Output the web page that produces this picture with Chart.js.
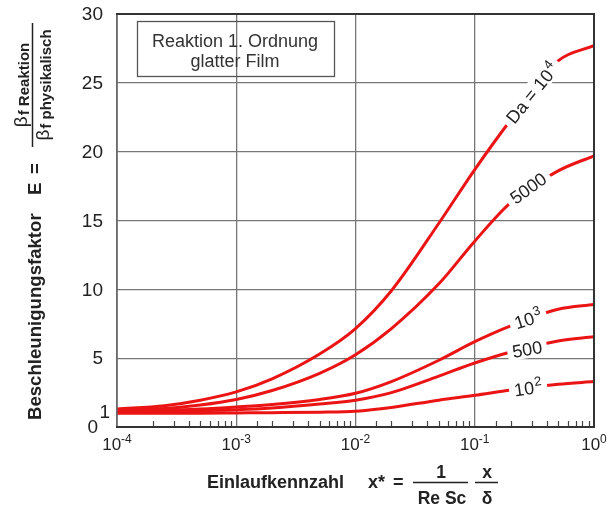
<!DOCTYPE html>
<html>
<head>
<meta charset="utf-8">
<script src="https://cdn.jsdelivr.net/npm/chart.js@4.4.0/dist/chart.umd.min.js"></script>
<style>
    html, body { margin: 0; padding: 0; background: #fff; }
    .chart { position: relative; width: 609px; height: 506px; }
</style>
</head>
<body>
<div class="chart"><canvas id="chart"></canvas></div>
<script>
//data
const x_values = [1e-4, 2.5e-4, 5e-4, 1e-3, 2e-3, 5e-3, 1e-2, 2e-2, 5e-2, 0.1, 0.2, 0.5, 1]

const e_da_10000 = [1.3, 1.55, 1.95, 2.55, 3.5, 5.3, 7.15, 9.9, 14.8, 18.7, 22.3, 26.6, 27.7]
const e_da_5000 = [1.25, 1.35, 1.6, 2.0, 2.65, 3.9, 5.25, 7.15, 10.4, 13.5, 16.3, 18.6, 19.7]
const e_da_1000 = [1.15, 1.2, 1.3, 1.45, 1.63, 2.0, 2.45, 3.3, 4.85, 6.2, 7.35, 8.55, 8.9]
const e_da_500 = [1.1, 1.13, 1.18, 1.25, 1.38, 1.67, 1.95, 2.5, 3.7, 4.65, 5.45, 6.25, 6.55]
const e_da_100 = [1.0, 1.0, 1.0, 1.02, 1.04, 1.08, 1.15, 1.42, 1.95, 2.3, 2.68, 3.1, 3.3]

const y_ticks = [0, 1, 5, 10, 15, 20, 25, 30]
const x_decades = [1e-4, 1e-3, 1e-2, 1e-1, 1]
const x_exponents = ['-4', '-3', '-2', '-1', '0']

const FONT = '"Liberation Sans", Arial, sans-serif'
const RED = 'rgb(235, 20, 20)'

function is_decade(v) {
    const l = Math.log10(v)
    return Math.abs(l - Math.round(l)) < 1e-9
}

function make_dataset(values) {
    return {
        data: x_values.map((x, i) => ({x: x, y: values[i]})),
        borderColor: RED,
        borderWidth: 3,
        pointRadius: 0,
        fill: false,
        cubicInterpolationMode: 'monotone'
    }
}

// curve labels (anchored in data units)
const curve_labels = [
    {text: 'Da = 10', sup: '4', x: 0.302, y: 24.26, angle: -51},
    {text: '5000', sup: '', x: 0.280, y: 17.36, angle: -36},
    {text: '10', sup: '3', x: 0.280, y: 7.84, angle: -18},
    {text: '500', sup: '', x: 0.275, y: 5.66, angle: -10},
    {text: '10', sup: '2', x: 0.280, y: 2.83, angle: -8}
]

function draw_curve_label(ctx, label, xs, ys) {
    const px = xs.getPixelForValue(label.x)
    const py = ys.getPixelForValue(label.y)
    ctx.save()
    ctx.translate(px, py)
    ctx.rotate(label.angle * Math.PI / 180)
    ctx.font = `18px ${FONT}`
    const w_main = ctx.measureText(label.text).width
    ctx.font = `13px ${FONT}`
    const w_sup = label.sup ? ctx.measureText(label.sup).width + 1 : 0
    const w = w_main + w_sup
    ctx.fillStyle = '#fff'
    ctx.fillRect(-w / 2 - 5, -10, w + 10, 19)
    ctx.fillStyle = '#222'
    ctx.textAlign = 'left'
    ctx.textBaseline = 'alphabetic'
    ctx.font = `18px ${FONT}`
    ctx.fillText(label.text, -w / 2, 6.5)
    if (label.sup) {
        ctx.font = `13px ${FONT}`
        ctx.fillText(label.sup, -w / 2 + w_main + 1, -1)
    }
    ctx.restore()
}

const decorations = {
    id: 'decorations',
    afterDatasetsDraw(chart) {
        const ctx = chart.ctx
        const area = chart.chartArea
        const xs = chart.scales.x
        const ys = chart.scales.y

        for (label of curve_labels) {
            draw_curve_label(ctx, label, xs, ys)
        }

        // minor ticks on the bottom
        ctx.save()
        ctx.strokeStyle = '#444'
        ctx.lineWidth = 1.2
        for (tick of xs.ticks) {
            if (is_decade(tick.value)) continue
            const px = Math.round(xs.getPixelForValue(tick.value)) + 0.5
            ctx.beginPath()
            ctx.moveTo(px, area.bottom)
            ctx.lineTo(px, area.bottom - 6)
            ctx.stroke()
        }

        // frame
        ctx.strokeStyle = '#666'
        ctx.lineWidth = 1.5
        ctx.beginPath()
        ctx.moveTo(area.left, area.top)
        ctx.lineTo(area.left, area.bottom)
        ctx.stroke()
        ctx.strokeStyle = '#333'
        ctx.lineWidth = 2
        ctx.beginPath()
        ctx.moveTo(area.left - 1, area.top)
        ctx.lineTo(area.right, area.top)
        ctx.lineTo(area.right, area.bottom)
        ctx.lineTo(area.left - 1, area.bottom)
        ctx.stroke()

        // info box
        ctx.strokeStyle = '#555'
        ctx.lineWidth = 1.3
        ctx.strokeRect(137.5, 21.5, 197, 55)
        ctx.fillStyle = '#333'
        ctx.font = `18px ${FONT}`
        ctx.textAlign = 'center'
        ctx.textBaseline = 'alphabetic'
        ctx.fillText('Reaktion 1. Ordnung', 235, 47)
        ctx.fillText('glatter Film', 235, 67)

        // y tick labels
        ctx.fillStyle = '#222'
        ctx.font = `19px ${FONT}`
        ctx.textAlign = 'right'
        ctx.textBaseline = 'middle'
        for (v of y_ticks) {
            const py = ys.getPixelForValue(v)
            if (v == 1) {
                ctx.fillText('1', area.left - 7, py)
            } else if (v == 0) {
                ctx.fillText('0', area.left - 19, py + 1)
            } else {
                ctx.fillText(String(v), area.left - 14, py + 1)
            }
        }

        // x tick labels: 10 with superscript exponent
        ctx.textAlign = 'left'
        ctx.textBaseline = 'alphabetic'
        x_decades.forEach((v, i) => {
            const px = xs.getPixelForValue(v)
            ctx.font = `17px ${FONT}`
            const w10 = ctx.measureText('10').width
            ctx.font = `12px ${FONT}`
            const wsup = ctx.measureText(x_exponents[i]).width
            const start = px - (w10 + wsup) / 2
            ctx.font = `17px ${FONT}`
            ctx.fillText('10', start, 450)
            ctx.font = `12px ${FONT}`
            ctx.fillText(x_exponents[i], start + w10, 443)
        })

        // x axis title
        ctx.fillStyle = '#222'
        ctx.font = `bold 18px ${FONT}`
        ctx.fillText('Einlaufkennzahl', 207, 488)
        ctx.fillText('x*', 368, 488)
        ctx.fillText('=', 393, 488)
        ctx.textAlign = 'center'
        ctx.font = `bold 17.5px ${FONT}`
        ctx.fillText('1', 441, 478)
        ctx.fillText('Re Sc', 442, 504)
        ctx.fillText('x', 487, 478)
        ctx.fillText('\u03b4', 487, 504)
        ctx.strokeStyle = '#222'
        ctx.lineWidth = 1.5
        ctx.beginPath()
        ctx.moveTo(413, 482.5)
        ctx.lineTo(468, 482.5)
        ctx.moveTo(475, 482.5)
        ctx.lineTo(498, 482.5)
        ctx.stroke()

        // y axis title (rotated)
        ctx.translate(41, 420)
        ctx.rotate(-Math.PI / 2)
        ctx.textAlign = 'left'
        ctx.font = `bold 18.6px ${FONT}`
        ctx.fillText('Beschleunigungsfaktor', 0, 0)
        ctx.fillText('E', 225, 0)
        ctx.fillText('=', 246, 0)
        // fraction bar
        ctx.beginPath()
        ctx.moveTo(273, -8.5)
        ctx.lineTo(397, -8.5)
        ctx.stroke()
        const frac_center = 335
        // numerator
        ctx.font = `19px ${FONT}`
        const wb = ctx.measureText('\u03b2').width
        ctx.font = `bold 15px ${FONT}`
        const wn = ctx.measureText('f Reaktion').width
        const wd = ctx.measureText('f physikalisch').width
        let s = frac_center - (wb + 1 + wn) / 2
        ctx.font = `19px ${FONT}`
        ctx.fillText('\u03b2', s, -14)
        ctx.font = `bold 15px ${FONT}`
        ctx.fillText('f Reaktion', s + wb + 1, -12)
        // denominator
        s = frac_center - (wb + 1 + wd) / 2
        ctx.font = `19px ${FONT}`
        ctx.fillText('\u03b2', s, 8)
        ctx.font = `bold 15px ${FONT}`
        ctx.fillText('f physikalisch', s + wb + 1, 10)
        ctx.restore()
    }
}

new Chart(document.getElementById('chart'), {
    type: 'line',
    data: {
        datasets: [
            make_dataset(e_da_10000),
            make_dataset(e_da_5000),
            make_dataset(e_da_1000),
            make_dataset(e_da_500),
            make_dataset(e_da_100)
        ]
    },
    options: {
        responsive: true,
        maintainAspectRatio: false,
        animation: false,
        layout: {
            padding: {left: 117, top: 14, right: 15, bottom: 79}
        },
        plugins: {
            legend: {display: false},
            tooltip: {enabled: false}
        },
        scales: {
            x: {
                type: 'logarithmic',
                min: 1e-4,
                max: 1,
                border: {display: false},
                ticks: {display: false, autoSkip: false},
                grid: {
                    drawTicks: false,
                    lineWidth: 1.3,
                    color: (c) => (c.tick && is_decade(c.tick.value)) ? '#777' : 'rgba(0,0,0,0)'
                }
            },
            y: {
                type: 'linear',
                min: 0,
                max: 30,
                afterBuildTicks: (axis) => {
                    axis.ticks = y_ticks.map((v) => ({value: v}))
                },
                border: {display: false},
                ticks: {display: false},
                grid: {
                    drawTicks: false,
                    lineWidth: 1.3,
                    color: (c) => (c.tick && c.tick.value > 1) ? '#777' : 'rgba(0,0,0,0)'
                }
            }
        }
    },
    plugins: [decorations]
})
</script>
</body>
</html>
